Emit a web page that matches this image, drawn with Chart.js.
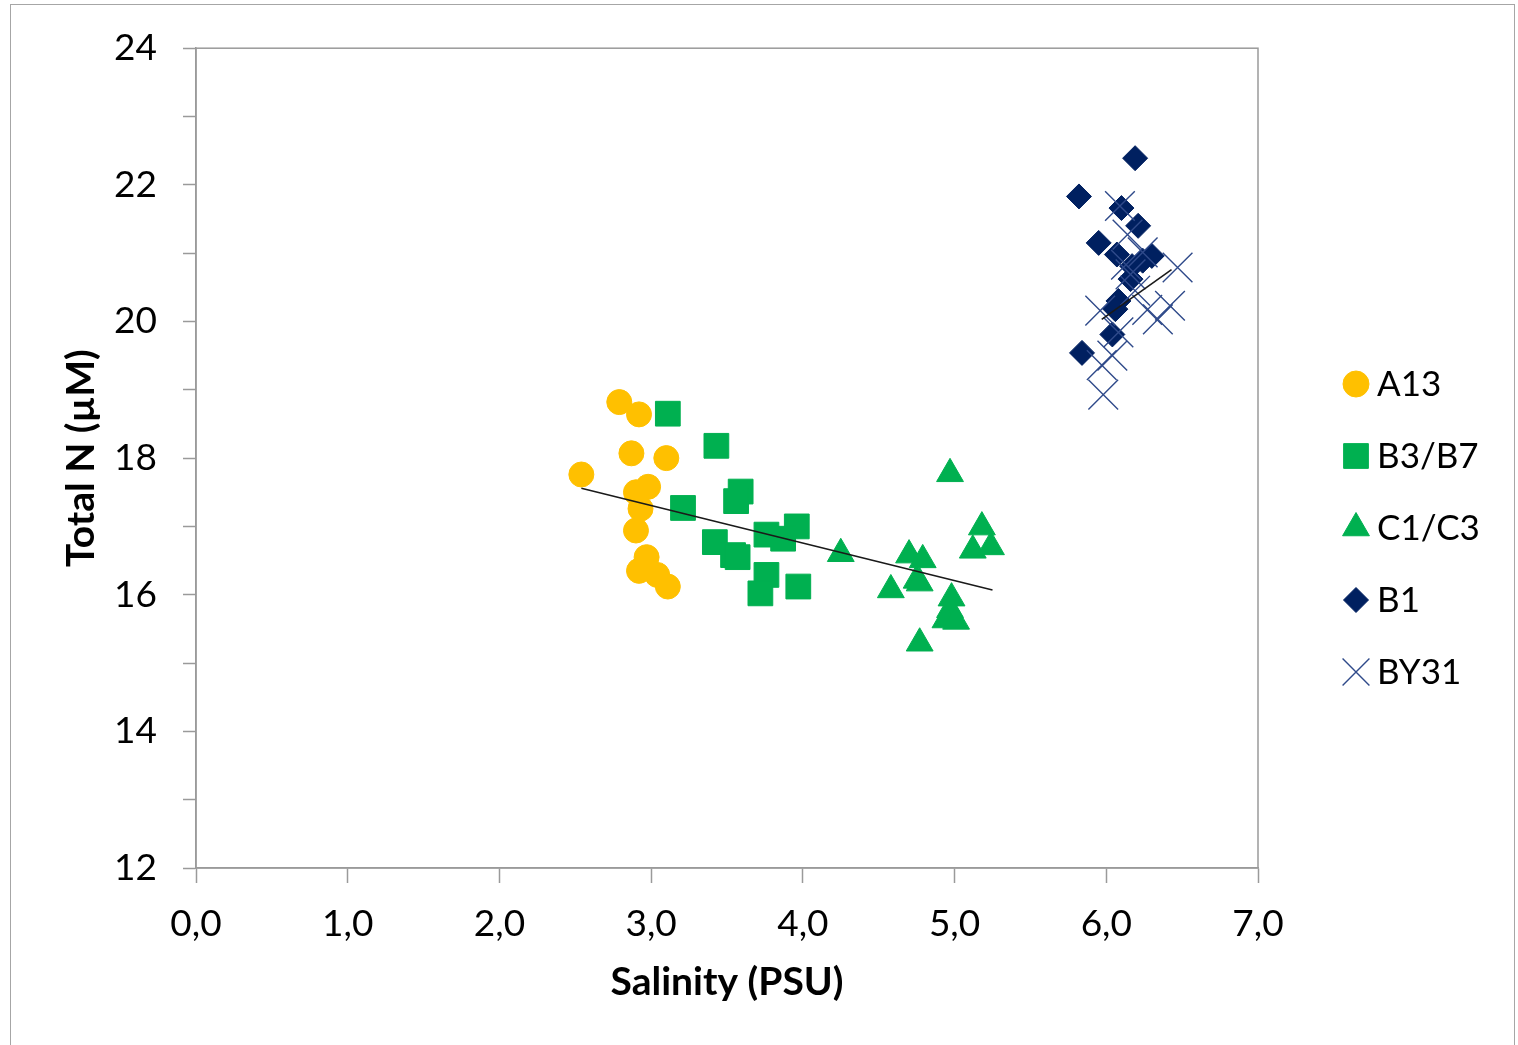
<!DOCTYPE html>
<html>
<head>
<meta charset="utf-8">
<script src="https://cdn.jsdelivr.net/npm/chart.js@4.4.1/dist/chart.umd.min.js"></script>
<style>
  html, body { margin: 0; padding: 0; background: #fff; overflow: hidden; }
  #frame { position: absolute; left: 10px; top: 4px; width: 1505px; height: 1060px; border: 1px solid #a6a6a6; box-sizing: border-box; }
  #c { position: absolute; left: 0; top: 0; }
</style>
</head>
<body>
<div id="frame"></div>
<canvas id="c" width="1518" height="1045"></canvas>
<script>
// ---- data ----
const seriesNames = ["A13", "B3/B7", "C1/C3", "B1", "BY31"];

const a13X = [2.79, 2.92, 2.87, 3.10, 2.54, 2.98, 2.90, 2.93, 2.90, 2.97, 2.92, 3.04, 3.11];
const a13Y = [18.82, 18.64, 18.07, 18.00, 17.76, 17.58, 17.50, 17.26, 16.94, 16.55, 16.35, 16.29, 16.12];

const b3b7X = [3.11, 3.43, 3.59, 3.56, 3.21, 3.96, 3.76, 3.87, 3.42, 3.54, 3.57, 3.76, 3.97, 3.72];
const b3b7Y = [18.65, 18.18, 17.51, 17.37, 17.27, 17.00, 16.88, 16.82, 16.77, 16.58, 16.55, 16.29, 16.12, 16.02];

const c1c3X = [4.97, 4.25, 5.18, 5.12, 5.24, 4.70, 4.79, 4.75, 4.77, 4.58, 4.98, 4.97, 4.94, 5.01, 4.77];
const c1c3Y = [17.77, 16.60, 16.99, 16.65, 16.70, 16.58, 16.51, 16.21, 16.17, 16.07, 15.95, 15.78, 15.63, 15.61, 15.29];

const b1X = [6.19, 5.82, 6.10, 6.21, 5.95, 6.07, 6.30, 6.17, 6.24, 6.16, 6.08, 6.06, 6.04, 5.84];
const b1Y = [22.39, 21.83, 21.66, 21.40, 21.15, 20.98, 20.96, 20.81, 20.89, 20.62, 20.30, 20.18, 19.81, 19.54];

const by31X = [6.09, 6.14, 6.24, 6.13, 6.16, 6.19, 6.47, 6.42, 6.27, 6.34, 5.96, 6.08, 6.04, 5.97, 5.98];
const by31Y = [21.69, 21.27, 21.01, 20.83, 20.69, 20.45, 20.79, 20.23, 20.17, 20.03, 20.16, 19.84, 19.50, 19.36, 18.93];

// trendline endpoints as drawn in the reference
const trendLowX = [2.54, 5.25];
const trendLowY = [17.56, 16.07];
const trendHighX = [5.97, 6.43];
const trendHighY = [20.03, 20.76];

const xTicks = [0, 1, 2, 3, 4, 5, 6, 7];
const yLabeledTicks = [12, 14, 16, 18, 20, 22, 24];

const xTitle = "Salinity (PSU)";
const yTitle = "Total N (\u00b5M)";

// ---- helpers ----
const pts = (xs, ys) => xs.map((x, i) => ({ x: x, y: ys[i] }));

const FONT = "Lato, 'Open Sans', sans-serif";

const frameBorder = {
  id: 'plotBorder',
  beforeDatasetsDraw(chart) {
    const { ctx, chartArea: a } = chart;
    ctx.save();
    ctx.strokeStyle = '#9a9a9a';
    ctx.lineWidth = 1.5;
    ctx.strokeRect(a.left, a.top, a.right - a.left, a.bottom - a.top);
    ctx.restore();
  }
};

const customLegend = {
  id: 'customLegend',
  afterDraw(chart) {
    const { ctx } = chart;
    const x0 = 1356, y0 = 384, step = 72;
    ctx.save();
    ctx.font = "35px " + FONT;
    ctx.textBaseline = 'middle';
    ctx.textAlign = 'left';
    let i = 0;
    chart.data.datasets.forEach(ds => {
      if (ds.isTrend) return;
      const y = y0 + i * step;
      ctx.fillStyle = ds.backgroundColor;
      ctx.strokeStyle = ds.borderColor;
      ctx.lineWidth = ds.borderWidth;
      Chart.helpers.drawPoint(ctx, {
        pointStyle: ds.pointStyle,
        radius: ds.legendRadius,
        rotation: 0,
        borderWidth: ds.borderWidth
      }, x0, y);
      ctx.fillStyle = '#000';
      ctx.fillText(ds.label, 1377, y + 1);
      i++;
    });
    ctx.restore();
  }
};

const ctx = document.getElementById('c').getContext('2d');
new Chart(ctx, {
  type: 'scatter',
  data: {
    datasets: [
      { label: 'trend1', isTrend: true, data: pts(trendLowX, trendLowY), showLine: true, pointRadius: 0,
        borderColor: '#1a1a1a', borderWidth: 1.6, order: 0 },
      { label: 'trend2', isTrend: true, data: pts(trendHighX, trendHighY), showLine: true, pointRadius: 0,
        borderColor: '#1a1a1a', borderWidth: 1.6, order: 0 },
      { label: seriesNames[0], data: pts(a13X, a13Y), pointStyle: 'circle', pointRadius: 12.5, legendRadius: 13,
        backgroundColor: '#FFC000', borderColor: '#FFC000', borderWidth: 1, order: 5 },
      { label: seriesNames[1], data: pts(b3b7X, b3b7Y), pointStyle: 'rect', pointRadius: 17.5, legendRadius: 17.5,
        backgroundColor: '#00B050', borderColor: '#00B050', borderWidth: 1, order: 4 },
      { label: seriesNames[2], data: pts(c1c3X, c1c3Y), pointStyle: 'triangle', pointRadius: 15.5, legendRadius: 15.5,
        backgroundColor: '#00B050', borderColor: '#00B050', borderWidth: 1, order: 3 },
      { label: seriesNames[3], data: pts(b1X, b1Y), pointStyle: 'rectRot', pointRadius: 12.5, legendRadius: 12.5,
        backgroundColor: '#002060', borderColor: '#002060', borderWidth: 1, order: 2 },
      { label: seriesNames[4], data: pts(by31X, by31Y), pointStyle: 'crossRot', pointRadius: 21, legendRadius: 19,
        backgroundColor: '#2F4A8A', borderColor: '#2F4A8A', borderWidth: 1.4, order: 1 }
    ]
  },
  options: {
    responsive: false,
    animation: false,
    events: [],
    layout: { padding: { top: 43, right: 260, left: 0, bottom: 0 } },
    plugins: {
      legend: { display: false },
      tooltip: { enabled: false }
    },
    scales: {
      x: {
        type: 'linear',
        min: xTicks[0],
        max: xTicks[xTicks.length - 1],
        afterFit: s => { s.height = 1045 - 868; },
        afterBuildTicks: s => { s.ticks = xTicks.map(v => ({ value: v })); },
        ticks: {
          padding: 19,
          color: '#000',
          font: { family: FONT, size: 37 },
          callback: v => v.toFixed(1).replace('.', ',')
        },
        grid: { drawOnChartArea: false, drawTicks: true, tickLength: 15, color: '#9a9a9a', tickWidth: 1.5 },
        border: { display: true, color: '#9a9a9a', width: 1.5 },
        title: {
          display: true,
          text: xTitle,
          color: '#000',
          font: { family: FONT, size: 39, weight: 'bold' },
          padding: { top: 0, bottom: 39 }
        }
      },
      y: {
        type: 'linear',
        min: 12,
        max: 24,
        afterFit: s => { s.width = 196; },
        ticks: {
          stepSize: 1,
          padding: 26,
          color: '#000',
          font: { family: FONT, size: 37 },
          callback: v => (yLabeledTicks.includes(v) ? String(v) : '')
        },
        grid: { drawOnChartArea: false, drawTicks: true, tickLength: 13, color: '#9a9a9a', tickWidth: 1.5 },
        border: { display: true, color: '#9a9a9a', width: 1.5 },
        title: {
          display: true,
          text: yTitle,
          color: '#000',
          font: { family: FONT, size: 39, weight: 'bold' },
          padding: { top: 58, bottom: 0 }
        }
      }
    }
  },
  plugins: [frameBorder, customLegend]
});
</script>
</body>
</html>
